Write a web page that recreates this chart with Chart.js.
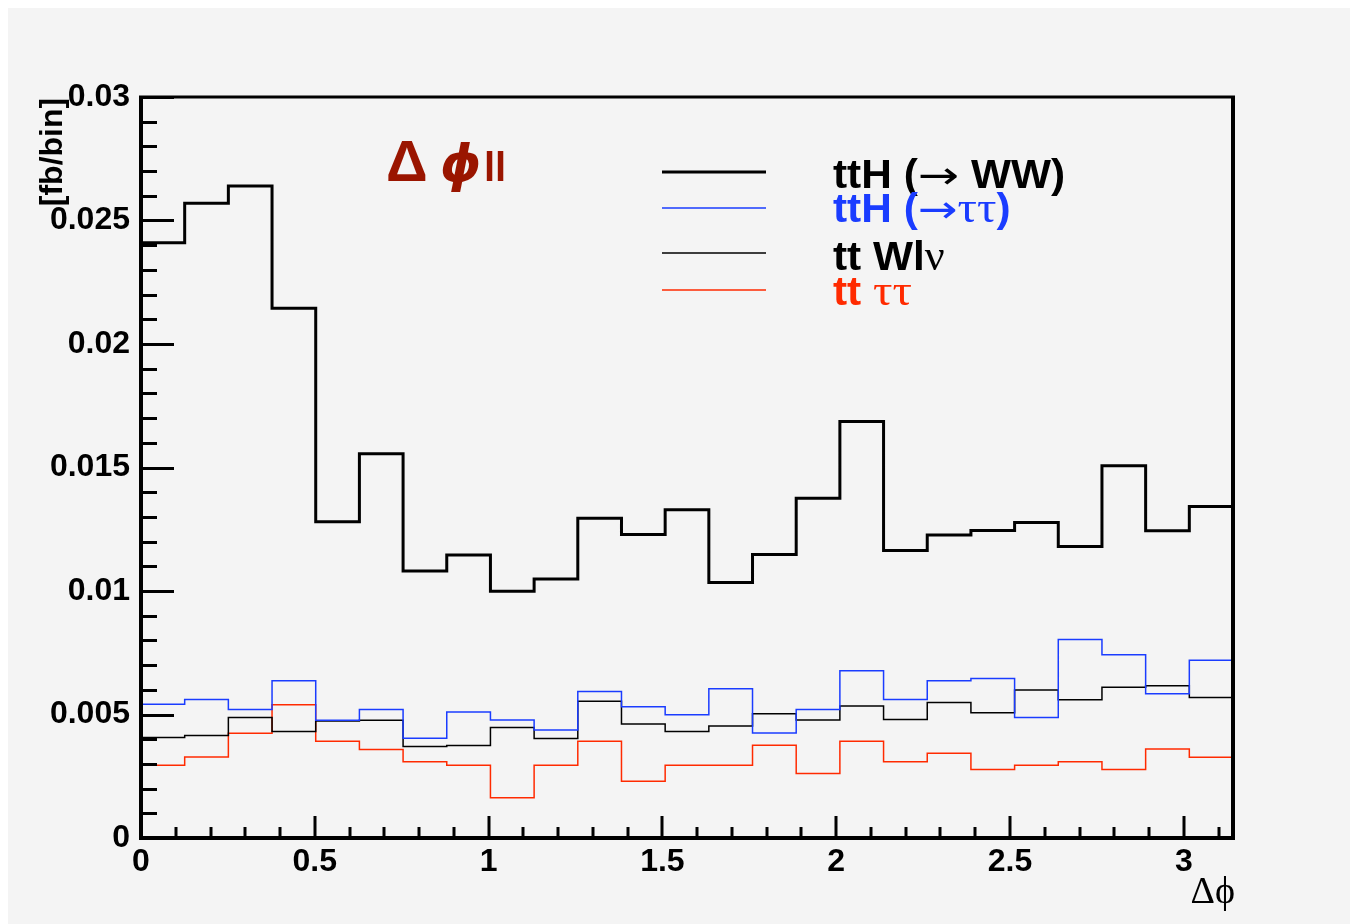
<!DOCTYPE html>
<html>
<head>
<meta charset="utf-8">
<script src="https://cdn.jsdelivr.net/npm/chart.js@4.4.1/dist/chart.umd.min.js"></script>
<style>
html,body{margin:0;padding:0;background:#ffffff;}
#wrap{width:1350px;height:924px;}
</style>
</head>
<body>
<div id="wrap"><canvas id="c" width="1350" height="924"></canvas></div>
<script>
// ---- data ----
const nBins = 25;
const xMin = 0;
const xMax = Math.PI;
const yMin = 0;
const yMax = 0.03;
const xTickValues = [0, 0.5, 1, 1.5, 2, 2.5, 3];
const xTickLabels = ['0', '0.5', '1', '1.5', '2', '2.5', '3'];
const yTickValues = [0, 0.005, 0.01, 0.015, 0.02, 0.025, 0.03];
const yTickLabels = ['0', '0.005', '0.01', '0.015', '0.02', '0.025', '0.03'];

const ttH_WW = [0.0241, 0.0257, 0.0264, 0.02145, 0.0128, 0.01556, 0.01081, 0.01146, 0.00999, 0.01049,
  0.01295, 0.01229, 0.01329, 0.01034, 0.01148, 0.01376, 0.01686, 0.01164, 0.01227, 0.01245,
  0.01277, 0.0118, 0.01507, 0.01244, 0.01342];
const ttH_tautau = [0.00542, 0.00561, 0.0052, 0.00637, 0.00477, 0.0052, 0.00404, 0.0051, 0.00478, 0.00437,
  0.00593, 0.00531, 0.00499, 0.00604, 0.00425, 0.0052, 0.00677, 0.00561, 0.00637, 0.00646,
  0.00488, 0.00804, 0.00742, 0.00584, 0.0072];
const tt_Wlnu = [0.00407, 0.00415, 0.00488, 0.00431, 0.00474, 0.00477, 0.0037, 0.00374, 0.00447, 0.00403,
  0.00554, 0.00462, 0.00431, 0.00453, 0.00503, 0.00478, 0.00534, 0.0048, 0.00549, 0.00507,
  0.00599, 0.0056, 0.0061, 0.00616, 0.00569];
const tt_tautau = [0.00295, 0.00328, 0.00424, 0.00539, 0.00392, 0.00358, 0.00309, 0.00295, 0.00163, 0.00295,
  0.00392, 0.0023, 0.00295, 0.00295, 0.00376, 0.00261, 0.00392, 0.00309, 0.00343, 0.00277,
  0.00295, 0.00309, 0.00277, 0.0036, 0.00327];

// bin edges (structure of the histogram axis)
const binEdges = [];
for (let i = 0; i <= nBins; i++) binEdges.push(xMin + (xMax - xMin) * i / nBins);

function histPoints(vals) {
  const pts = vals.map((v, i) => ({x: binEdges[i], y: v}));
  pts.push({x: binEdges[nBins], y: vals[vals.length - 1]});
  return pts;
}

const BLUE = '#1a3cff';
const RED = '#ff2a00';
const TITLE_RED = '#9a1500';
const SANS = "'Liberation Sans', Arial, Helvetica, sans-serif";
const SERIF = "'Liberation Serif', 'DejaVu Serif', serif";

const seriesDefs = [
  {data: ttH_WW, color: '#000000', width: 3},
  {data: ttH_tautau, color: BLUE, width: 1.5},
  {data: tt_Wlnu, color: '#000000', width: 1.5},
  {data: tt_tautau, color: RED, width: 1.5}
];

function drawParts(ctx, x, y, parts) {
  let cx = x;
  ctx.textBaseline = 'alphabetic';
  ctx.textAlign = 'left';
  for (const p of parts) {
    ctx.font = p.font;
    ctx.fillStyle = p.color;
    const sx = p.sx || 1;
    ctx.save();
    ctx.translate(cx, y);
    ctx.scale(sx, 1);
    ctx.fillText(p.text, 0, 0);
    ctx.restore();
    cx += ctx.measureText(p.text).width * sx;
  }
}

const decor = {
  id: 'decor',
  beforeDraw(chart) {
    const ctx = chart.ctx;
    ctx.save();
    ctx.fillStyle = '#ffffff';
    ctx.fillRect(0, 0, chart.width, chart.height);
    ctx.fillStyle = '#f4f4f4';
    ctx.fillRect(8, 8, chart.width - 8, chart.height - 8);
    ctx.restore();
  },
  afterDraw(chart) {
    const ctx = chart.ctx;
    const a = chart.chartArea;
    const xs = chart.scales.x, ys = chart.scales.y;
    ctx.save();
    ctx.strokeStyle = '#000';
    ctx.lineCap = 'butt';
    // y ticks (major + minor), inward
    ctx.lineWidth = 3;
    for (let k = 0; k <= 30; k++) {
      const v = k * 0.001;
      const py = Math.round(ys.getPixelForValue(v)) + 0.5;
      const len = (k % 5 === 0) ? 33 : 16;
      ctx.beginPath();
      ctx.moveTo(a.left, py);
      ctx.lineTo(a.left + len, py);
      ctx.stroke();
    }
    // x ticks
    for (let k = 0; k <= 31; k++) {
      const v = k * 0.1;
      if (v > xMax) break;
      const px = Math.round(xs.getPixelForValue(v));
      const len = (k % 5 === 0) ? 22 : 11;
      ctx.beginPath();
      ctx.moveTo(px, a.bottom);
      ctx.lineTo(px, a.bottom - len);
      ctx.stroke();
    }
    // frame
    ctx.lineWidth = 4;
    ctx.beginPath();
    ctx.moveTo(a.left, a.top);
    ctx.lineTo(a.left, a.bottom);
    ctx.lineTo(a.right, a.bottom);
    ctx.lineTo(a.right, a.top);
    ctx.stroke();
    ctx.lineWidth = 3;
    ctx.beginPath();
    ctx.moveTo(a.left - 2, a.top);
    ctx.lineTo(a.right + 2, a.top);
    ctx.stroke();

    // y-axis title
    ctx.save();
    ctx.translate(53, 152);
    ctx.rotate(-Math.PI / 2);
    ctx.font = 'bold 32px ' + SANS;
    ctx.fillStyle = '#000';
    ctx.textAlign = 'center';
    ctx.textBaseline = 'middle';
    ctx.fillText('[fb/bin]', 0, 0);
    ctx.restore();

    // x-axis title
    ctx.font = '38px ' + SERIF;
    ctx.fillStyle = '#000';
    ctx.textAlign = 'right';
    ctx.textBaseline = 'alphabetic';
    ctx.fillText('\u0394\u03d5', 1235, 903);

    // plot title
    drawParts(ctx, 386, 181, [
      {text: '\u0394', font: 'bold 58px ' + SANS, color: TITLE_RED}
    ]);
    drawParts(ctx, 440, 181, [
      {text: '\u03d5', font: 'bold italic 52px ' + "'DejaVu Sans', sans-serif", color: TITLE_RED}
    ]);
    drawParts(ctx, 484, 181, [
      {text: 'll', font: 'bold 40px ' + SANS, color: TITLE_RED}
    ]);

    // legend lines
    const legY = [172, 208, 253, 290];
    seriesDefs.forEach((s, i) => {
      ctx.strokeStyle = s.color;
      ctx.lineWidth = s.width;
      ctx.beginPath();
      ctx.moveTo(662, legY[i]);
      ctx.lineTo(766, legY[i]);
      ctx.stroke();
    });
    // legend text
    const B = 'bold 40px ' + SANS;
    const A = '38px ' + "'DejaVu Sans', sans-serif";
    const G = '44px ' + SERIF;
    const bsx = 1.06;
    drawParts(ctx, 833, 188, [
      {text: 'ttH (', font: B, color: '#000', sx: bsx},
      {text: '\u2192', font: A, color: '#000', sx: 1.3},
      {text: ' WW)', font: B, color: '#000', sx: bsx}
    ]);
    drawParts(ctx, 833, 222, [
      {text: 'ttH (', font: B, color: BLUE, sx: bsx},
      {text: '\u2192', font: A, color: BLUE, sx: 1.25},
      {text: '\u03c4\u03c4', font: G, color: BLUE, sx: 1.1},
      {text: ')', font: B, color: BLUE, sx: bsx}
    ]);
    drawParts(ctx, 833, 270, [
      {text: 'tt Wl', font: B, color: '#000', sx: bsx},
      {text: '\u03bd', font: G, color: '#000'}
    ]);
    drawParts(ctx, 833, 305, [
      {text: 'tt ', font: B, color: RED, sx: bsx},
      {text: '\u03c4\u03c4', font: G, color: RED, sx: 1.1}
    ]);
    ctx.restore();
  }
};

new Chart(document.getElementById('c'), {
  type: 'line',
  data: {
    datasets: seriesDefs.map(s => ({
      data: histPoints(s.data),
      borderColor: s.color,
      borderWidth: s.width,
      stepped: 'before',
      pointRadius: 0,
      fill: false,
      tension: 0
    }))
  },
  options: {
    responsive: false,
    devicePixelRatio: 1,
    animation: false,
    events: [],
    layout: {padding: {left: 0, top: 97, right: 117, bottom: 0}},
    plugins: {legend: {display: false}, tooltip: {enabled: false}, title: {display: false}},
    scales: {
      x: {
        type: 'linear',
        min: xMin,
        max: xMax,
        grid: {display: false, drawTicks: false},
        border: {display: false},
        afterFit(scale) { scale.height = 86; },
        afterBuildTicks(scale) { scale.ticks = xTickValues.map(v => ({value: v})); },
        ticks: {
          padding: 5,
          maxRotation: 0,
          autoSkip: false,
          color: '#000',
          font: {family: SANS, size: 32, weight: 'bold'},
          callback: (v) => { const i = xTickValues.indexOf(v); return i >= 0 ? xTickLabels[i] : ''; }
        }
      },
      y: {
        type: 'linear',
        min: yMin,
        max: yMax,
        grid: {display: false, drawTicks: false},
        border: {display: false},
        afterFit(scale) { scale.width = 141; },
        afterBuildTicks(scale) { scale.ticks = yTickValues.map(v => ({value: v})); },
        ticks: {
          padding: 11,
          autoSkip: false,
          color: '#000',
          font: {family: SANS, size: 32, weight: 'bold'},
          callback: (v) => { const i = yTickValues.indexOf(v); return i >= 0 ? yTickLabels[i] : ''; }
        }
      }
    }
  },
  plugins: [decor]
});
</script>
</body>
</html>
